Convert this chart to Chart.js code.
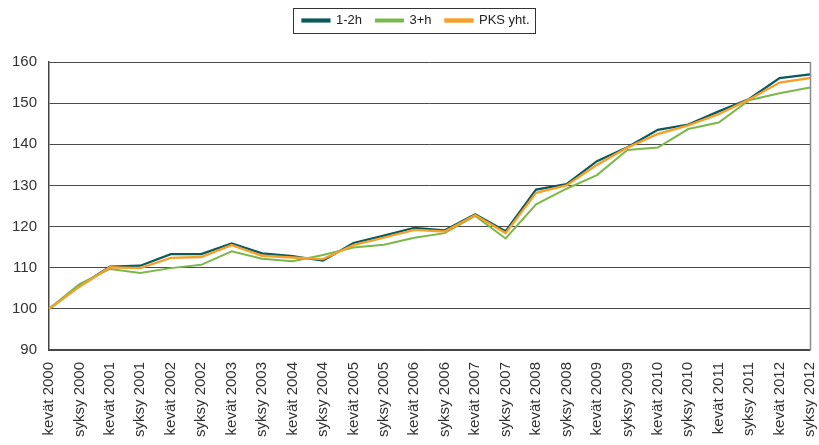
<!DOCTYPE html>
<html>
<head>
<meta charset="utf-8">
<script src="https://cdn.jsdelivr.net/npm/chart.js@4/dist/chart.umd.min.js"></script>
<style>
html,body{margin:0;padding:0;background:#fff;}
#wrap{width:819px;height:445px;position:relative;}
</style>
</head>
<body>
<div id="wrap"><canvas id="c" width="819" height="445"></canvas></div>
<script>
const categories = ["kevät 2000","syksy 2000","kevät 2001","syksy 2001","kevät 2002","syksy 2002","kevät 2003","syksy 2003","kevät 2004","syksy 2004","kevät 2005","syksy 2005","kevät 2006","syksy 2006","kevät 2007","syksy 2007","kevät 2008","syksy 2008","kevät 2009","syksy 2009","kevät 2010","syksy 2010","kevät 2011","syksy 2011","kevät 2012","syksy 2012"];
const seriesNames = ["1-2h","3+h","PKS yht."];
const values12h = [100,105.5,110.3,110.5,113.3,113.3,115.9,113.5,112.8,111.7,116.0,117.8,119.7,119.1,123.0,118.9,129.0,130.3,135.9,139.3,143.5,144.8,148.0,151.0,156.1,157.0];
const values3h  = [100,106.0,109.7,108.7,109.9,110.7,114.0,112.2,111.6,113.1,114.9,115.6,117.3,118.4,122.6,117.1,125.4,129.2,132.5,138.6,139.2,143.7,145.3,150.7,152.4,153.8];
const valuesPKS = [100,105.4,110.1,109.9,112.4,112.6,115.5,112.9,112.5,112.1,115.5,117.3,119.2,118.8,122.8,118.4,128.2,130.0,135.0,139.2,142.5,144.6,147.3,150.9,155.0,156.1];
const yTicks = [90,100,110,120,130,140,150,160];

const FONT = "'Liberation Sans', Arial, sans-serif";

const frame = {
  id:'frame',
  afterInit(chart){
    const lg = chart.legend;
    if(lg){
      const orig = lg.fit;
      lg.fit = function(){ orig.call(this); this.height += 25; };
    }
  },
  afterLayout(chart){
    const lg = chart.legend;
    if(lg){ lg.left += 11; lg.right += 11; }
  },
  afterDatasetsDraw(chart){
    const a = chart.chartArea, ctx = chart.ctx;
    ctx.save();
    ctx.strokeStyle = '#8a8a8a';
    ctx.lineWidth = 1.5;
    ctx.beginPath();
    ctx.moveTo(Math.round(a.right)+0.5, a.top);
    ctx.lineTo(Math.round(a.right)+0.5, a.bottom);
    ctx.stroke();
    ctx.restore();
  },
  afterDraw(chart){
    const lg = chart.legend;
    if(!lg || !lg.legendHitBoxes || !lg.legendHitBoxes.length) return;
    const hb = lg.legendHitBoxes;
    let minX = Infinity, maxX = -Infinity, cy = 0;
    hb.forEach(h=>{minX=Math.min(minX,h.left);maxX=Math.max(maxX,h.left+h.width);cy=h.top+h.height/2;});
    const ctx = chart.ctx;
    ctx.save();
    ctx.strokeStyle = '#333';
    ctx.lineWidth = 1;
    ctx.strokeRect(Math.round(minX-9)+0.5, Math.round(cy-12.5)+0.5, Math.round(maxX-minX+15), 25);
    ctx.restore();
  }
};

new Chart(document.getElementById('c'), {
  type:'line',
  data:{
    labels: categories,
    datasets:[
      {label:seriesNames[0], data:values12h, borderColor:'#0a5a5c', backgroundColor:'#0a5a5c', borderWidth:2.2, pointRadius:0, tension:0, order:3},
      {label:seriesNames[1], data:values3h,  borderColor:'#79b84a', backgroundColor:'#79b84a', borderWidth:2, pointRadius:0, tension:0, order:2},
      {label:seriesNames[2], data:valuesPKS, borderColor:'#f5a02a', backgroundColor:'#f5a02a', borderWidth:2.4, pointRadius:0, tension:0, order:1}
    ]
  },
  options:{
    responsive:false,
    animation:false,
    layout:{padding:{left:0,right:9,top:0,bottom:8}},
    plugins:{
      legend:{
        position:'top',
        labels:{
          font:{family:FONT,size:13},
          color:'#222',
          boxWidth:27,
          boxHeight:2,
          padding:14,
          sort:(a,b)=>a.datasetIndex-b.datasetIndex
        }
      },
      tooltip:{enabled:false}
    },
    scales:{
      x:{
        offset:false,
        grid:{display:false, drawTicks:false},
        border:{display:true,color:'#444',width:1.5},
        ticks:{font:{family:FONT,size:15},color:'#333',minRotation:90,maxRotation:90,autoSkip:false,padding:12},
        afterFit(scale){ scale.paddingLeft = 0; scale.paddingRight = 0; scale.height = 87; }
      },
      y:{
        min:90,max:160,
        afterBuildTicks(scale){scale.ticks = yTicks.map(v=>({value:v}));},
        grid:{color:'#4a4a4a',lineWidth:1,drawTicks:false},
        border:{display:true,color:'#444',width:1.5},
        ticks:{font:{family:FONT,size:15},color:'#333',padding:12}
      }
    }
  },
  plugins:[frame]
});
</script>
</body>
</html>
